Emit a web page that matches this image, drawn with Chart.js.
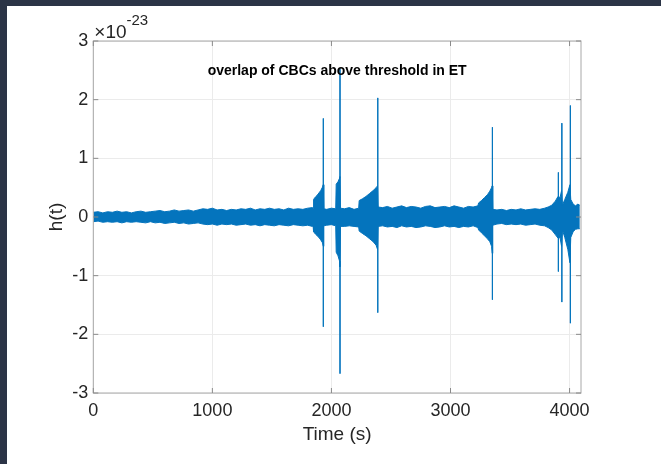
<!DOCTYPE html>
<html>
<head>
<meta charset="utf-8">
<script src="https://cdn.jsdelivr.net/npm/chart.js@4.4.1/dist/chart.umd.min.js"></script>
<style>
  html, body { margin: 0; padding: 0; background: #2b3446; }
  #wrap { width: 661px; height: 464px; }
</style>
</head>
<body>
<div id="wrap"><canvas id="strainChart" width="661" height="464"></canvas></div>
<script>
// values in units of 1e-23
var xTicks = [0, 1000, 2000, 3000, 4000];
var yTicks = [-3, -2, -1, 0, 1, 2, 3];

// min/max envelope of h(t) per time bin (s)
var binTimes = [
  0, 40, 80, 120, 160, 200, 240, 280, 320, 360,
  400, 440, 480, 520, 560, 600, 640, 680, 720, 760,
  800, 840, 880, 920, 960, 1000, 1040, 1080, 1120, 1160,
  1200, 1240, 1280, 1320, 1360, 1400, 1440, 1480, 1520, 1560,
  1600, 1640, 1680, 1720, 1760, 1800, 1840,
  1846, 1850, 1865, 1880, 1895, 1910, 1925, 1931, 1936, 1960, 2000, 2036,
  2040, 2055, 2068, 2071, 2076, 2110, 2150, 2190, 2229,
  2233, 2260, 2290, 2320, 2350, 2375, 2387, 2392,
  2430, 2470, 2510, 2550, 2590, 2630, 2670, 2710, 2750, 2790,
  2830, 2870, 2910, 2950, 2990, 3030, 3070, 3110, 3150, 3190, 3230,
  3236, 3260, 3285, 3310, 3330, 3345, 3350, 3355,
  3390, 3430, 3470, 3510, 3550, 3590, 3630, 3670, 3710, 3750, 3790,
  3820, 3850, 3880, 3903, 3920, 3933, 3940, 3960, 3985, 4003, 4010, 4030, 4050, 4070, 4086
];
var upperEnv = [
  0.08, 0.09, 0.07, 0.09, 0.08, 0.10, 0.08, 0.09, 0.07, 0.09,
  0.10, 0.08, 0.09, 0.10, 0.11, 0.09, 0.10, 0.12, 0.10, 0.11,
  0.12, 0.10, 0.12, 0.14, 0.13, 0.15, 0.12, 0.13, 0.11, 0.13,
  0.12, 0.14, 0.13, 0.15, 0.12, 0.14, 0.13, 0.15, 0.13, 0.14,
  0.12, 0.15, 0.13, 0.14, 0.13, 0.15, 0.16,
  0.15, 0.30, 0.34, 0.37, 0.41, 0.45, 0.51, 0.55, 0.14, 0.13, 0.15, 0.14,
  0.56, 0.60, 0.66, 0.69, 0.15, 0.14, 0.16, 0.13, 0.15,
  0.28, 0.31, 0.35, 0.40, 0.45, 0.50, 0.53, 0.17,
  0.16, 0.18, 0.15, 0.17, 0.19, 0.16, 0.18, 0.17, 0.15, 0.18,
  0.19, 0.16, 0.17, 0.18, 0.16, 0.19, 0.17, 0.15, 0.18, 0.17, 0.19,
  0.24, 0.28, 0.33, 0.38, 0.44, 0.50, 0.53, 0.13,
  0.12, 0.13, 0.11, 0.13, 0.12, 0.14, 0.12, 0.13, 0.14, 0.13, 0.15,
  0.17, 0.20, 0.27, 0.35, 0.33, 0.45, 0.20, 0.30, 0.42, 0.55, 0.30, 0.22, 0.19, 0.22, 0.20
];
var lowerEnv = [
  -0.08, -0.07, -0.09, -0.08, -0.09, -0.08, -0.10, -0.08, -0.09, -0.08,
  -0.09, -0.10, -0.08, -0.10, -0.09, -0.11, -0.10, -0.09, -0.11, -0.10,
  -0.12, -0.11, -0.10, -0.12, -0.13, -0.12, -0.14, -0.12, -0.13, -0.12,
  -0.14, -0.13, -0.12, -0.14, -0.13, -0.15, -0.13, -0.14, -0.15, -0.13,
  -0.14, -0.15, -0.13, -0.14, -0.15, -0.14, -0.16,
  -0.15, -0.25, -0.29, -0.32, -0.35, -0.39, -0.44, -0.50, -0.15, -0.14, -0.13, -0.15,
  -0.60, -0.66, -0.75, -0.85, -0.16, -0.16, -0.15, -0.16, -0.17,
  -0.24, -0.28, -0.32, -0.37, -0.42, -0.48, -0.55, -0.16,
  -0.15, -0.17, -0.16, -0.18, -0.15, -0.17, -0.16, -0.18, -0.17, -0.15,
  -0.16, -0.18, -0.17, -0.15, -0.17, -0.16, -0.18, -0.16, -0.17, -0.15, -0.18,
  -0.22, -0.27, -0.32, -0.37, -0.42, -0.50, -0.62, -0.14,
  -0.12, -0.11, -0.13, -0.12, -0.13, -0.12, -0.14, -0.13, -0.12, -0.14, -0.15,
  -0.18, -0.22, -0.30, -0.36, -0.35, -0.50, -0.22, -0.35, -0.55, -0.78, -0.35, -0.25, -0.21, -0.20, -0.20
];

// merger spikes
var spikeTimes   = [1932, 2072, 2389, 3352, 3906, 3935, 4007];
var spikeTops    = [1.68, 2.52, 2.03, 1.53, 0.76, 1.60, 1.90];
var spikeBottoms = [-1.87, -2.67, -1.63, -1.41, -0.93, -1.45, -1.81];

var blue = '#0474bd';
var textColor = '#262626';
var fontFamily = '"Liberation Sans", Helvetica, Arial, sans-serif';

var upperPts = binTimes.map(function(t, i) { return {x: t, y: upperEnv[i]}; });
var lowerPts = binTimes.map(function(t, i) { return {x: t, y: lowerEnv[i]}; });
var spikePts = [];
spikeTimes.forEach(function(t, i) {
  spikePts.push({x: t, y: spikeTops[i]});
  spikePts.push({x: t, y: spikeBottoms[i]});
  spikePts.push({x: t, y: null});
});

// MATLAB-like frame: background, box, inner ticks, title, exponent
var matlabFrame = {
  id: 'matlabFrame',
  beforeDraw: function(chart) {
    var ctx = chart.ctx;
    ctx.save();
    ctx.fillStyle = '#2b3446';
    ctx.fillRect(0, 0, chart.width, chart.height);
    ctx.fillStyle = '#ffffff';
    ctx.fillRect(7, 6, chart.width - 7, chart.height - 6);
    ctx.restore();
  },
  afterDraw: function(chart) {
    var ctx = chart.ctx, a = chart.chartArea;
    var xs = chart.scales.x, ys = chart.scales.y;
    ctx.save();
    ctx.strokeStyle = '#a8a8a8';
    ctx.lineWidth = 1;
    ctx.strokeRect(a.left, a.top, a.right - a.left, a.bottom - a.top);
    ctx.strokeStyle = '#8a8a8a';
    ctx.beginPath();
    xTicks.forEach(function(v) {
      var px = xs.getPixelForValue(v);
      ctx.moveTo(px, a.bottom); ctx.lineTo(px, a.bottom - 5);
      ctx.moveTo(px, a.top); ctx.lineTo(px, a.top + 5);
    });
    yTicks.forEach(function(v) {
      var py = ys.getPixelForValue(v);
      ctx.moveTo(a.left, py); ctx.lineTo(a.left + 5, py);
      ctx.moveTo(a.right, py); ctx.lineTo(a.right - 5, py);
    });
    ctx.stroke();

    ctx.fillStyle = '#000000';
    ctx.font = 'bold 14px ' + fontFamily;
    ctx.textAlign = 'center';
    ctx.textBaseline = 'middle';
    ctx.fillText('overlap of CBCs above threshold in ET', (a.left + a.right) / 2, a.top + 30);

    ctx.fillStyle = textColor;
    ctx.textAlign = 'left';
    ctx.font = '19px ' + fontFamily;
    ctx.fillText('\u00d710', a.left + 1, a.top - 8);
    var w = ctx.measureText('\u00d710').width;
    ctx.font = '15px ' + fontFamily;
    ctx.fillText('-23', a.left + 1 + w, a.top - 20);
    ctx.restore();
  }
};

var ctx = document.getElementById('strainChart').getContext('2d');
var strainChart = new Chart(ctx, {
  type: 'line',
  data: {
    datasets: [{
      label: 'upper',
      data: upperPts,
      borderColor: blue,
      backgroundColor: blue,
      borderWidth: 1,
      pointRadius: 0,
      tension: 0,
      fill: '+1'
    }, {
      label: 'lower',
      data: lowerPts,
      borderColor: blue,
      backgroundColor: blue,
      borderWidth: 1,
      pointRadius: 0,
      tension: 0,
      fill: false
    }, {
      label: 'spikes',
      data: spikePts,
      borderColor: 'rgba(4, 116, 189, 0.85)',
      borderWidth: 1,
      pointRadius: 0,
      spanGaps: false,
      fill: false
    }]
  },
  options: {
    responsive: false,
    animation: false,
    layout: { padding: { left: 0, right: 80, top: 41, bottom: 0 } },
    plugins: {
      legend: { display: false },
      tooltip: { enabled: false },
      title: { display: false }
    },
    scales: {
      x: {
        type: 'linear',
        min: 0,
        max: 4096,
        afterBuildTicks: function(s) { s.ticks = xTicks.map(function(v) { return {value: v}; }); },
        afterFit: function(s) { s.height = 71; },
        grid: { color: '#ebebeb', drawTicks: false },
        border: { display: false },
        ticks: {
          color: textColor,
          font: { family: fontFamily, size: 18 },
          padding: 7,
          maxRotation: 0,
          autoSkip: false,
          callback: function(v) { return String(v); }
        },
        title: {
          display: true,
          text: 'Time (s)',
          color: textColor,
          font: { family: fontFamily, size: 19 },
          padding: { top: 0, bottom: 18 }
        }
      },
      y: {
        min: -3,
        max: 3,
        afterBuildTicks: function(s) { s.ticks = yTicks.map(function(v) { return {value: v}; }); },
        afterFit: function(s) { s.width = 93.3; },
        grid: { color: '#ebebeb', drawTicks: false },
        border: { display: false },
        ticks: {
          color: textColor,
          font: { family: fontFamily, size: 18 },
          padding: 5,
          callback: function(v) { return String(v); }
        },
        title: {
          display: true,
          text: 'h(t)',
          color: textColor,
          font: { family: fontFamily, size: 19 },
          padding: { top: 45, bottom: 0 }
        }
      }
    }
  },
  plugins: [matlabFrame]
});
</script>
</body>
</html>
